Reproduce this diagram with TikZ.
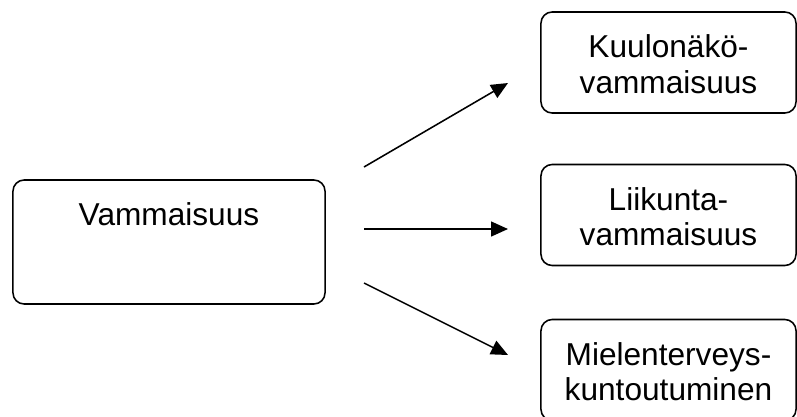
\documentclass[tikz,border=0pt]{standalone}
\usepackage{fontspec}
\setmainfont{Liberation Sans}
\usetikzlibrary{positioning,arrows.meta}

\begin{document}
\begin{tikzpicture}[x=0.025cm, y=-0.025cm,
    box/.style={draw, line width=1.1pt, rounded corners=0.28cm, inner sep=0pt,
                align=center, font=\fontsize{22.5}{25.2}\selectfont},
    flow/.style={line width=1.1pt, -{Triangle[length=0.42cm, width=0.37cm]}}]
  \clip (0,0) rectangle (797,416);

  % Main box, its text sits near the top
  \node[box, minimum width=7.8cm, text height=1.125cm, text depth=1.975cm]
    (vamma) at (169,242) {Vammaisuus};

  % Three kinds of disability
  \foreach \name/\y/\txt in {kuulo/62.5/{Kuulonäkö-\\vammaisuus},
                             liikunta/215/{Liikunta-\\vammaisuus},
                             mieli/370/{Mielenterveys-\\kuntoutuminen}} {
    \node[box, minimum width=6.375cm, text height=2.025cm, text depth=0.5cm]
      (\name) at (668.5,\y) {\txt};
  }

  % Free-standing arrows between the boxes
  \coordinate (s1) at (364,167); \coordinate (e1) at (508,83);
  \coordinate (s2) at (364,229); \coordinate (e2) at (508,229);
  \coordinate (s3) at (364,283); \coordinate (e3) at (508,355);
  \foreach \i in {1,2,3} {
    \draw[flow] (s\i) -- (e\i);
  }
\end{tikzpicture}
\end{document}
